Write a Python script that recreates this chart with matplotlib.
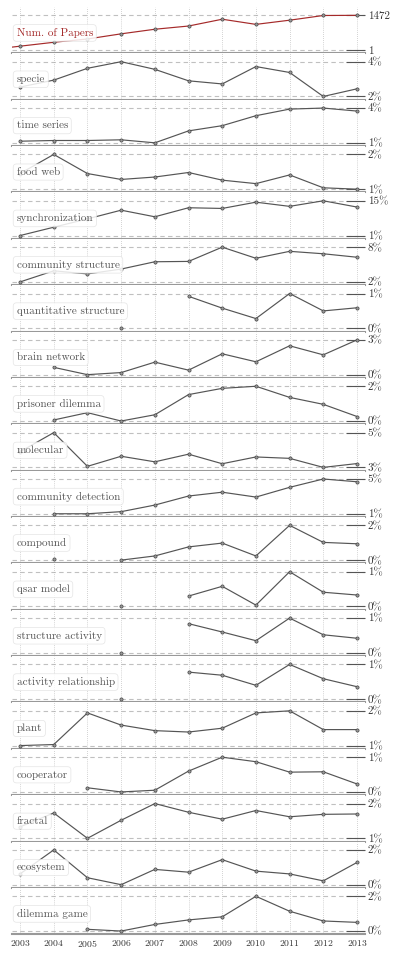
import numpy as np
import matplotlib
matplotlib.use("Agg")
from matplotlib import pyplot as plt

nan = np.nan

# anni (il primo pannello ha anche il 2002)
anni = [2003, 2004, 2005, 2006, 2007, 2008, 2009, 2010, 2011, 2012, 2013]
anni_papers = [2002] + anni

papers = [1, 166, 331, 471, 689, 883, 1019, 1307, 1089, 1266, 1465, 1472]

specie = [2.54, 2.94, 3.62, 4.0, 3.56, 2.90, 2.72, 3.72, 3.38, 2.0, 2.44]
time_series = [1.14, 1.2, 1.2, 1.26, 1.0, 2.03, 2.48, 3.34, 3.91, 4.0, 3.74]
food_web = [1.45, 2.0, 1.45, 1.28, 1.35, 1.48, 1.26, 1.16, 1.41, 1.04, 1.0]
synchronization = [1.0, 4.36, 7.72, 11.22, 8.56, 12.2, 11.92, 14.44, 12.76, 15.0, 12.48]
community_structure = [2.0, 3.92, 3.38, 4.22, 5.48, 5.54, 8.0, 6.08, 7.28, 6.86, 6.26]
quantitative_structure = [nan, nan, nan, 0.0, nan, 0.92, 0.58, 0.28, 1.0, 0.5, 0.59]
brain_network = [nan, 0.63, 0.0, 0.18, 1.08, 0.39, 1.8, 1.11, 2.49, 1.71, 3.0]
prisoner_dilemma = [nan, 0.06, 0.48, 0.0, 0.36, 1.52, 1.88, 2.0, 1.36, 0.96, 0.26]
molecular = [3.9, 5.0, 3.06, 3.64, 3.32, 3.76, 3.21, 3.6, 3.52, 3.0, 3.22]
community_detection = [nan, 1.0, 1.0, 1.24, 2.0, 3.04, 3.48, 2.92, 4.04, 5.0, 4.68]
compound = [nan, 0.06, nan, 0.0, 0.24, 0.76, 0.98, 0.24, 2.0, 1.02, 0.94]
qsar_model = [nan, nan, nan, 0.0, nan, 0.30, 0.58, 0.04, 1.0, 0.41, 0.33]
structure_activity = [nan, nan, nan, 0.0, nan, 0.84, 0.60, 0.35, 1.0, 0.52, 0.42]
activity_relationship = [nan, nan, nan, 0.0, nan, 0.78, 0.69, 0.40, 1.0, 0.59, 0.36]
plant = [1.0, 1.03, 1.94, 1.59, 1.43, 1.39, 1.5, 1.94, 2.0, 1.46, 1.46]
cooperator = [nan, nan, 0.12, 0.0, 0.05, 0.6, 1.0, 0.87, 0.57, 0.58, 0.23]
fractal = [1.33, 1.73, 1.0, 1.52, 2.0, 1.75, 1.55, 1.8, 1.62, 1.69, 1.7]
ecosystem = [0.62, 2.0, 0.4, 0.0, 0.88, 0.72, 1.44, 0.78, 0.62, 0.22, 1.28]
dilemma_game = [nan, nan, 0.1, 0.0, 0.38, 0.64, 0.82, 2.0, 1.14, 0.58, 0.5]

nomi = ["specie", "time series", "food web", "synchronization",
        "community structure", "quantitative structure", "brain network",
        "prisoner dilemma", "molecular", "community detection", "compound",
        "qsar model", "structure activity", "activity relationship", "plant",
        "cooperator", "fractal", "ecosystem", "dilemma game"]
serie = [specie, time_series, food_web, synchronization, community_structure,
         quantitative_structure, brain_network, prisoner_dilemma, molecular,
         community_detection, compound, qsar_model, structure_activity,
         activity_relationship, plant, cooperator, fractal, ecosystem,
         dilemma_game]

plt.rcParams["font.family"] = ["cmr10", "DejaVu Serif"]
plt.rcParams["axes.formatter.use_mathtext"] = True

ROSSO = "#a52a2a"
GRIGIO = "#555555"

fig, axes = plt.subplots(len(serie) + 1, 1, figsize=(3.99, 9.57), dpi=100, sharex=True)
fig.subplots_adjust(left=0.030, right=0.915, top=0.9927, bottom=0.0237, hspace=0)


def disegna(ax, x, y, nome, colore, etichette):
    y = np.array(y, dtype=float)
    lo, hi = np.nanmin(y), np.nanmax(y)
    r = hi - lo

    # linee tratteggiate al minimo e al massimo
    for v in (lo, hi):
        ax.axhline(v, color="#c0c0c0", lw=0.8, ls=(0, (4, 3)), zorder=1)

    ax.plot(x, y, color=colore, lw=0.85, marker="o", ms=2.3,
            mfc="#999999", mec="#444444", mew=0.5, zorder=3)

    ax.set_ylim(lo - 0.094 * r, hi + 0.24 * r)
    ax.set_xlim(2002.76, 2013.24)

    # assi
    for s in ["top", "left", "right"]:
        ax.spines[s].set_visible(False)
    ax.spines["bottom"].set_color("#999999")
    ax.spines["bottom"].set_linewidth(1.5)

    ax.yaxis.tick_right()
    ax.set_yticks([lo, hi])
    ax.set_yticklabels(etichette)
    ax.tick_params(axis="y", direction="in", length=14, width=0.8,
                   color=GRIGIO, labelsize=8, pad=2, labelcolor="#333333")

    ax.set_xticks(anni)
    ax.grid(axis="x", color="#aaaaaa", ls=(0, (1, 2)), lw=0.5)
    ax.tick_params(axis="x", length=0, labelsize=7, labelcolor="#333333", pad=3)

    ax.text(0.013, 0.44, nome, transform=ax.transAxes, fontsize=8,
            color=colore, va="center", ha="left", zorder=5,
            bbox=dict(boxstyle="round,pad=0.3", fc="white", ec="#e0e0e0",
                      lw=0.5, alpha=0.85))


# primo pannello: numero di articoli
disegna(axes[0], anni_papers, papers, "Num. of Papers", ROSSO,
        [str(min(papers)), str(max(papers))])

for ax, nome, valori in zip(axes[1:], nomi, serie):
    lo, hi = np.nanmin(valori), np.nanmax(valori)
    disegna(ax, anni, valori, nome, GRIGIO, [f"{lo:.0f}%", f"{hi:.0f}%"])

for ax in axes[:-1]:
    ax.tick_params(axis="x", labelbottom=False)

fig.savefig("out.png", dpi=100)
